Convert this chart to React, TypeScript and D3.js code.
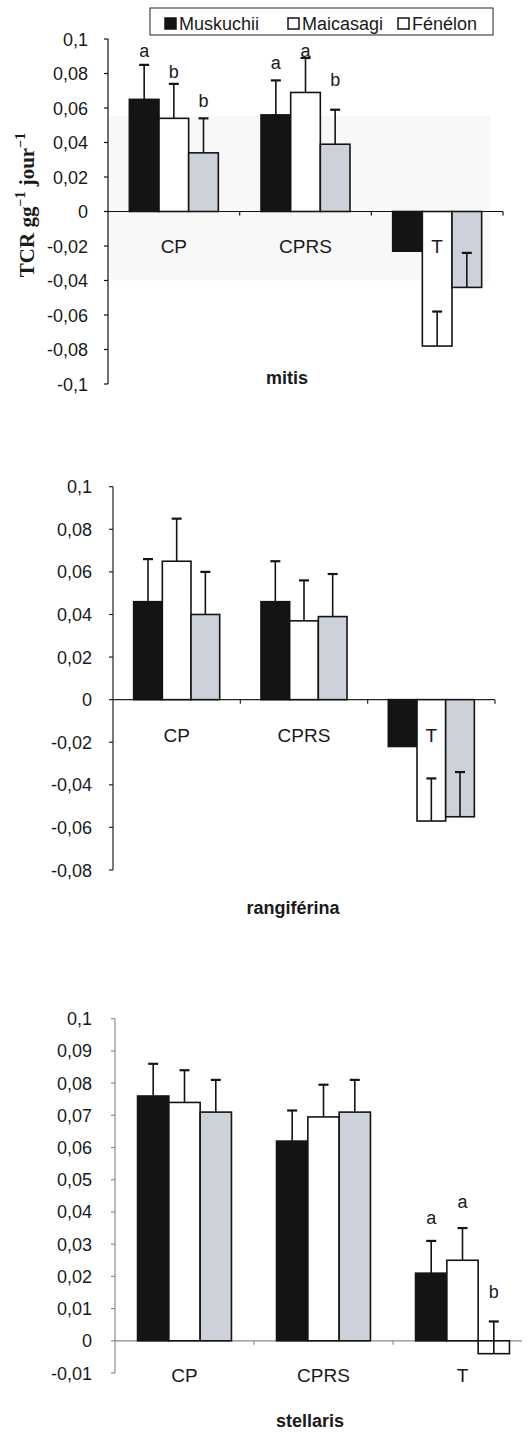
import React from "react";
import * as d3 from "d3";

const series = ["Muskuchii", "Maicasagi", "Fénélon"];
const categories = ["CP", "CPRS", "T"];

// mitis
const mitisValues = [
  [0.065, 0.054, 0.034],
  [0.056, 0.069, 0.039],
  [-0.023, -0.078, -0.044],
];
const mitisErrors = [
  [0.02, 0.02, 0.02],
  [0.02, 0.02, 0.02],
  [0.02, 0.02, 0.02],
];
const mitisLetters = [
  ["a", "b", "b"],
  ["a", "a", "b"],
  ["", "", ""],
];
const mitisLetterLevels = [
  [0.093, 0.081, 0.064],
  [0.086, 0.093, 0.076],
  [0, 0, 0],
];
const mitisTicks = [0.1, 0.08, 0.06, 0.04, 0.02, 0, -0.02, -0.04, -0.06, -0.08, -0.1];

// rangiférina
const rangValues = [
  [0.046, 0.065, 0.04],
  [0.046, 0.037, 0.039],
  [-0.022, -0.057, -0.055],
];
const rangErrors = [
  [0.02, 0.02, 0.02],
  [0.019, 0.019, 0.02],
  [0.02, 0.02, 0.021],
];
const rangTicks = [0.1, 0.08, 0.06, 0.04, 0.02, 0, -0.02, -0.04, -0.06, -0.08];

// stellaris
const stelValues = [
  [0.076, 0.074, 0.071],
  [0.062, 0.0695, 0.071],
  [0.021, 0.025, -0.004],
];
const stelErrors = [
  [0.01, 0.01, 0.01],
  [0.0095, 0.01, 0.01],
  [0.01, 0.01, 0.01],
];
const stelLetters = [
  ["", "", ""],
  ["", "", ""],
  ["a", "a", "b"],
];
const stelLetterLevels = [
  [0, 0, 0],
  [0, 0, 0],
  [0.038, 0.043, 0.015],
];
const stelTicks = [0.1, 0.09, 0.08, 0.07, 0.06, 0.05, 0.04, 0.03, 0.02, 0.01, 0, -0.01];

const fills = ["#141414", "#ffffff", "#cdd1da"];
const sans = "'Liberation Sans', Arial, sans-serif";

const fmt = (v: number) => (v === 0 ? "0" : String(+v.toFixed(2)).replace(".", ","));

const panels = [
  {
    name: "mitis", values: mitisValues, errors: mitisErrors, letters: mitisLetters,
    letterLevels: mitisLetterLevels, ticks: mitisTicks,
    x0: 108, x1: 503, axisEnd: 503, yTop: 39, yBot: 384, labelRight: 88,
    catY: 253, titleX: 287, titleY: 384, axisColor: "#111", shade: true, whiteCell: null,
  },
  {
    name: "rangiférina", values: rangValues, errors: rangErrors, letters: null,
    letterLevels: null, ticks: rangTicks,
    x0: 113, x1: 495, axisEnd: 495, yTop: 486.7, yBot: 870, labelRight: 92,
    catY: 742, titleX: 293, titleY: 914, axisColor: "#222", shade: false, whiteCell: null,
  },
  {
    name: "stellaris", values: stelValues, errors: stelErrors, letters: stelLetters,
    letterLevels: stelLetterLevels, ticks: stelTicks,
    x0: 115, x1: 532, axisEnd: 522, yTop: 1018.7, yBot: 1373, labelRight: 92,
    catY: 1382, titleX: 310, titleY: 1427, axisColor: "#8c8c8c", shade: false,
    whiteCell: [2, 2],
  },
];

function Panel({ p }: { p: any }) {
  const y = d3
    .scaleLinear()
    .domain(d3.extent(p.ticks as number[]) as [number, number])
    .range([p.yBot, p.yTop]);
  const xc = d3.scaleBand().domain(categories).range([p.x0, p.x1]);
  const xs = d3
    .scaleBand()
    .domain(series)
    .range([0, xc.bandwidth()])
    .paddingInner(0)
    .paddingOuter(0.72);
  const bw = xs.bandwidth();

  return (
    <g>
      {p.shade && (
        <rect
          x={p.x0}
          y={y(0.0555)}
          width={490 - p.x0}
          height={y(-0.04) - y(0.0555)}
          fill="#f8f8f8"
        />
      )}
      {/* y axis */}
      <line x1={p.x0} x2={p.x0} y1={y(d3.max(p.ticks as number[])!)} y2={y(d3.min(p.ticks as number[])!)} stroke={p.axisColor} strokeWidth={1.2} />
      {p.ticks.map((t: number) => (
        <g key={t}>
          <line x1={p.x0 - 4} x2={p.x0} y1={y(t)} y2={y(t)} stroke={p.axisColor} strokeWidth={1.2} />
          <text x={p.labelRight} y={y(t) + 6.5} textAnchor="end" fontSize={18} fontFamily={sans} fill="#1a1a1a">
            {fmt(t)}
          </text>
        </g>
      ))}
      {/* zero line */}
      <line x1={p.x0} x2={p.axisEnd} y1={y(0)} y2={y(0)} stroke={p.axisColor} strokeWidth={1.2} />
      {categories.map((c) => {
        const tx = (xc(c) as number) + xc.bandwidth();
        return tx <= p.axisEnd ? (
          <line key={c} x1={tx} x2={tx} y1={y(0)} y2={y(0) + 4} stroke={p.axisColor} strokeWidth={1.2} />
        ) : null;
      })}
      {/* bars */}
      {categories.map((c, ci) =>
        series.map((s, si) => {
          const v = p.values[ci][si];
          const e = p.errors[ci][si];
          const bx = (xc(c) as number) + (xs(s) as number);
          const cx = bx + bw / 2;
          const white = p.whiteCell && p.whiteCell[0] === ci && p.whiteCell[1] === si;
          return (
            <g key={c + s}>
              <rect
                x={bx}
                y={Math.min(y(v), y(0))}
                width={bw}
                height={Math.abs(y(v) - y(0))}
                fill={white ? "#fff" : fills[si]}
                stroke="#141414"
                strokeWidth={1.6}
              />
              <line x1={cx} x2={cx} y1={y(v)} y2={y(v + e)} stroke="#141414" strokeWidth={1.6} />
              <line x1={cx - 5} x2={cx + 5} y1={y(v + e)} y2={y(v + e)} stroke="#141414" strokeWidth={2.2} />
              {p.letters && p.letters[ci][si] && (
                <text x={cx} y={y(p.letterLevels[ci][si]) + 6} textAnchor="middle" fontSize={18} fontFamily={sans} fill="#1a1a1a">
                  {p.letters[ci][si]}
                </text>
              )}
            </g>
          );
        })
      )}
      {categories.map((c) => (
        <text
          key={c}
          x={(xc(c) as number) + xc.bandwidth() / 2}
          y={p.catY}
          textAnchor="middle"
          fontSize={19}
          fontFamily={sans}
          fill="#1a1a1a"
        >
          {c}
        </text>
      ))}
      <text x={p.titleX} y={p.titleY} textAnchor="middle" fontSize={18} fontWeight="bold" fontFamily={sans} fill="#1a1a1a">
        {p.name}
      </text>
    </g>
  );
}

const legendX = [165, 288, 398];

export default function App() {
  return (
    <svg
      width={529}
      height={1432}
      style={{ position: "absolute", left: 0, top: 0, background: "#fff" }}
    >
      <rect width={529} height={1432} fill="#fff" />
      {panels.map((p) => (
        <Panel key={p.name} p={p} />
      ))}
      {/* legend */}
      <rect x={150} y={8} width={343} height={27} fill="#fff" stroke="#222" strokeWidth={1} />
      {series.map((s, i) => (
        <g key={s}>
          <rect
            x={legendX[i]}
            y={18}
            width={11}
            height={11}
            fill={i === 0 ? "#141414" : "#fff"}
            stroke="#141414"
            strokeWidth={1.5}
          />
          <text x={legendX[i] + 14} y={29.5} fontSize={18} fontFamily={sans} fill="#1a1a1a">
            {s}
          </text>
        </g>
      ))}
      {/* y label */}
      <text
        transform="translate(34,205) rotate(-90)"
        textAnchor="middle"
        fontSize={21}
        fontWeight="bold"
        fontFamily="'Liberation Serif', 'Times New Roman', serif"
        fill="#1a1a1a"
      >
        TCR gg
        <tspan fontSize={14} dy={-9}>−1</tspan>
        <tspan dy={9}> jour</tspan>
        <tspan fontSize={14} dy={-9}>−1</tspan>
      </text>
    </svg>
  );
}
